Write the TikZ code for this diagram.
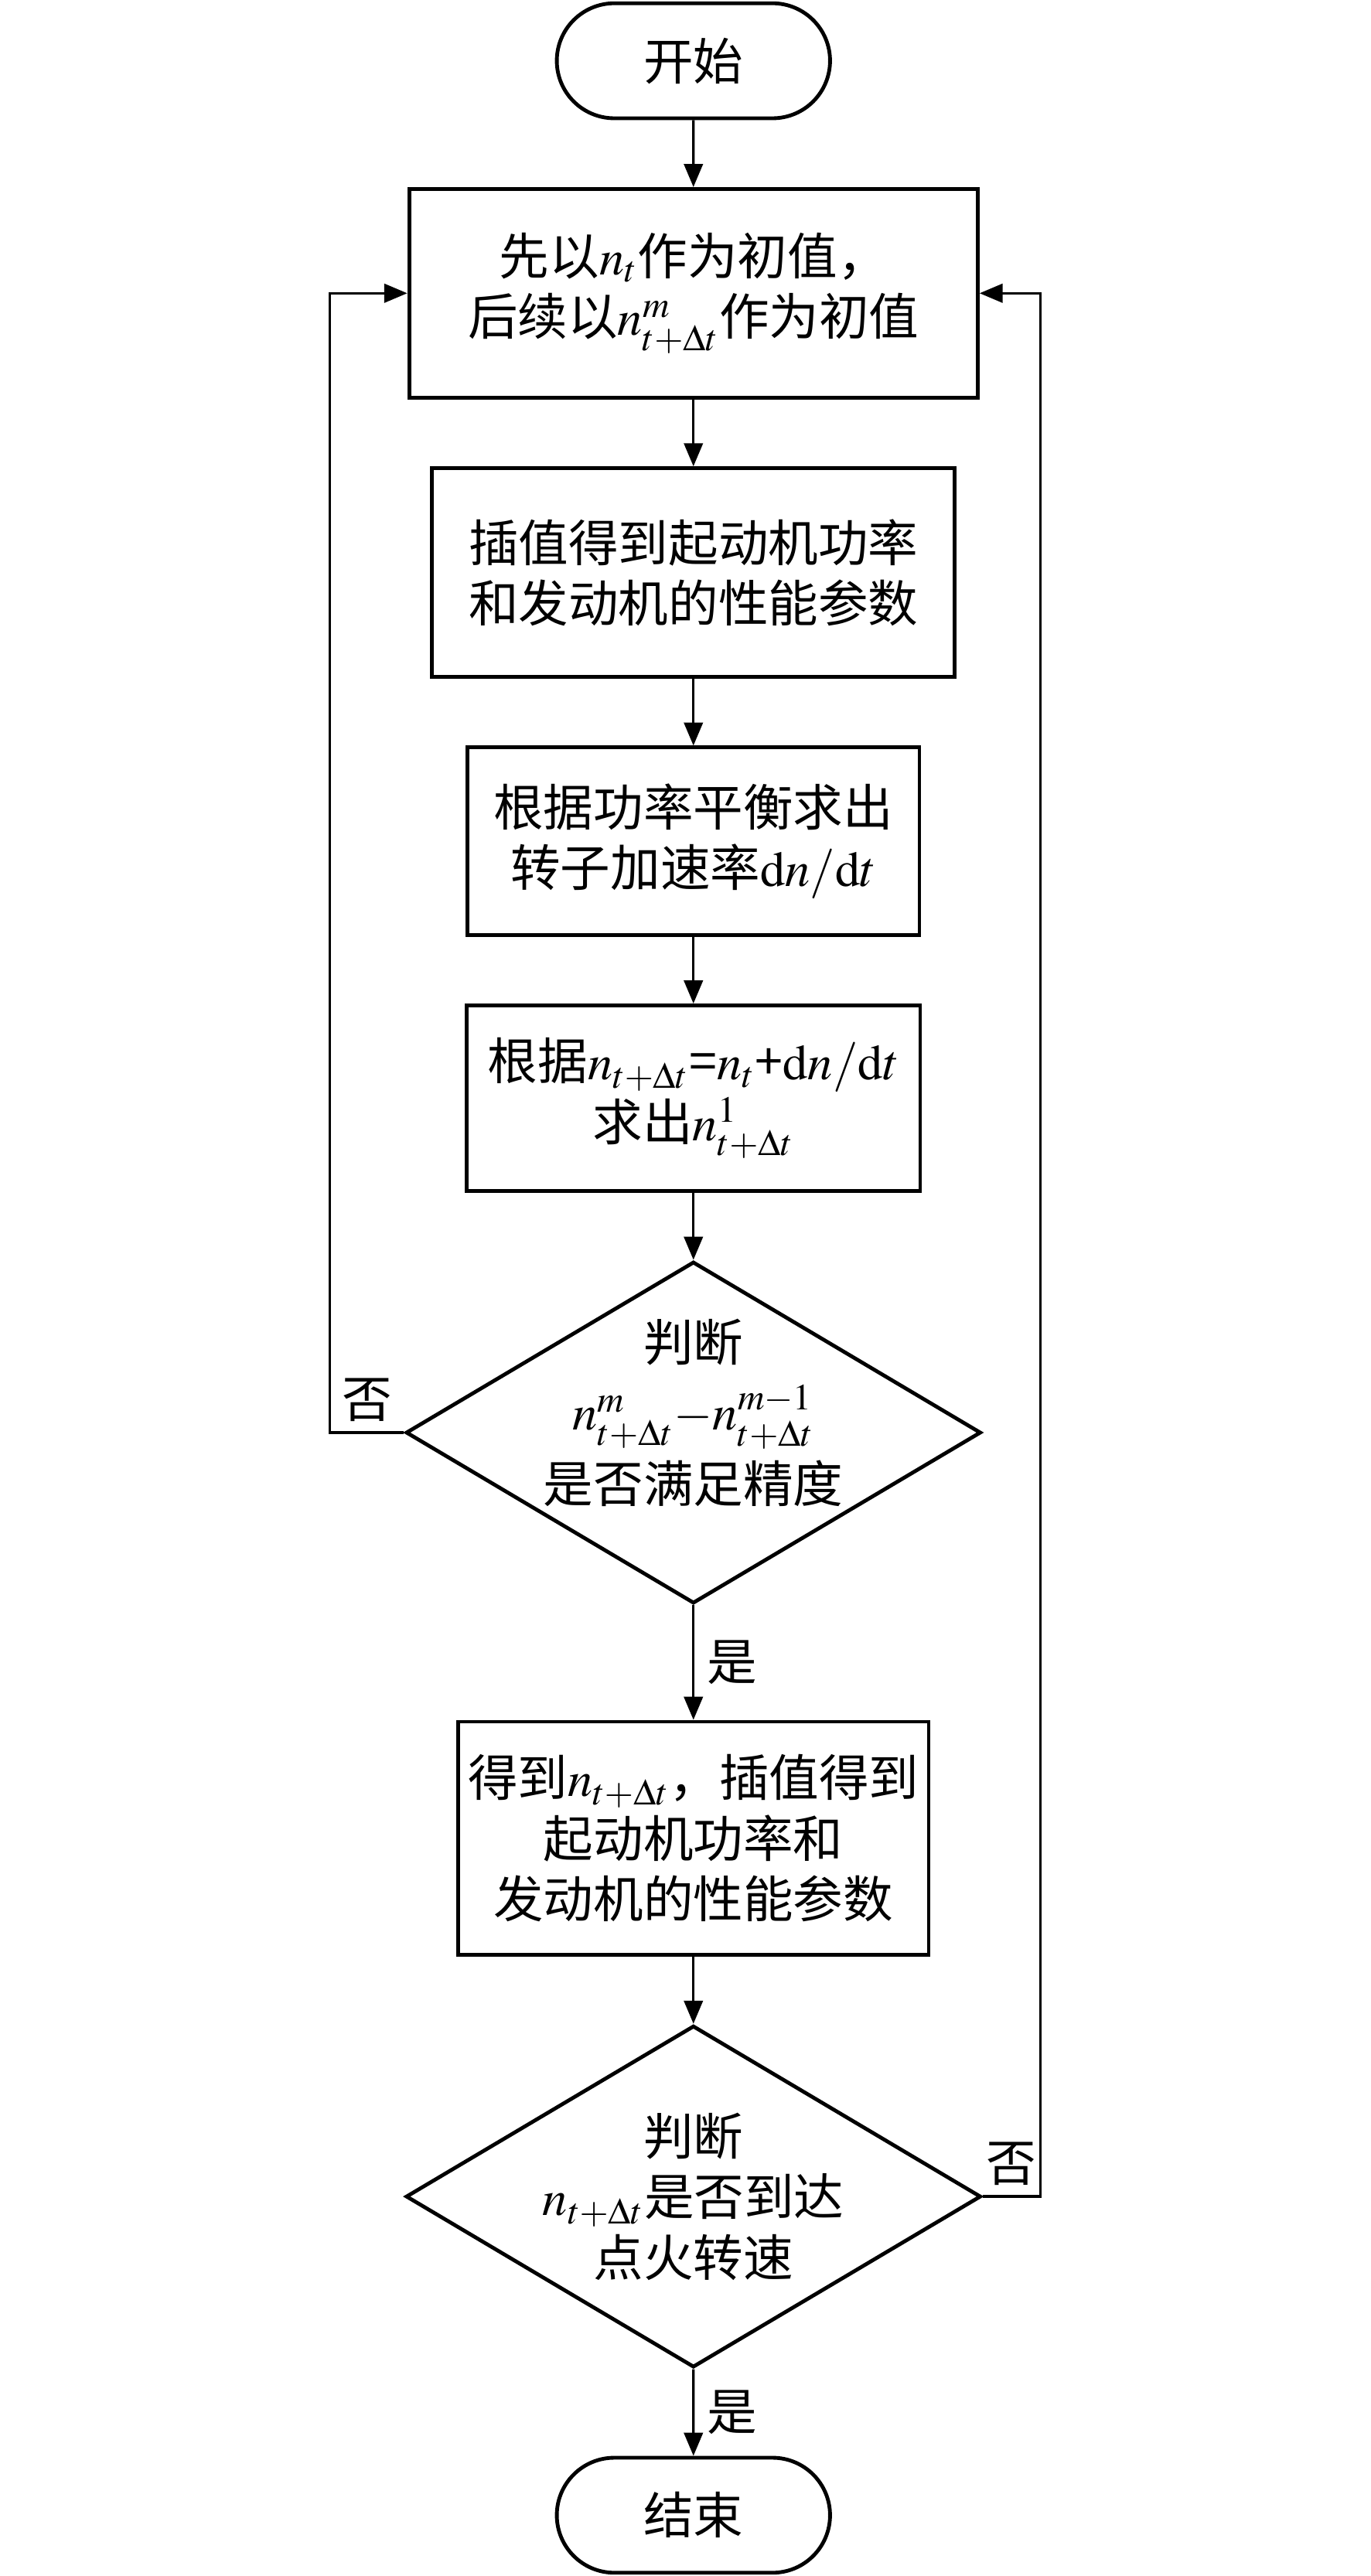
\documentclass[tikz,border=0pt]{standalone}
\usepackage{mathptmx}
\usepackage[no-math]{fontspec}
\setmainfont{Noto Sans CJK SC}
\usepackage{tikz}
\usetikzlibrary{shapes.geometric, shapes.misc, arrows.meta, positioning}

\begin{document}
\begin{tikzpicture}[
    font=\fontsize{17.3}{21}\selectfont,
    term/.style={draw, rounded rectangle, line width=1.3pt, minimum width=3.56cm, minimum height=1.4cm},
    proc/.style={draw, rectangle, line width=1.3pt, align=center},
    dec/.style={draw, diamond, line width=1.3pt, minimum width=7cm, minimum height=4.16cm, inner sep=0pt},
    flow/.style={-{Triangle[length=8pt, width=6.5pt]}, line width=0.9pt}]

    \useasboundingbox (-8.44,0) rectangle (8.24,-31.36);

    % Start and end
    \node[term] (st) at (0,-0.74) {开始};
    \node[term] (ed) at (0,-30.62) {结束};

    % Process boxes
    \node[proc, minimum width=6.92cm, minimum height=2.54cm] (init) at (0,-3.57) {先以$n_t$作为初值，\\后续以$n^m_{t+\Delta t}$作为初值};
    \node[proc, minimum width=6.36cm, minimum height=2.54cm] (interp) at (0,-6.97) {插值得到起动机功率\\和发动机的性能参数};
    \node[proc, minimum width=5.5cm, minimum height=2.28cm] (accel) at (0,-10.24) {根据功率平衡求出\\转子加速率$\mathrm{d}n/\mathrm{d}t$};
    \node[proc, minimum width=5.52cm, minimum height=2.26cm] (pred) at (0,-13.37) {根据$n_{t+\Delta t}$=$n_t$+$\mathrm{d}n/\mathrm{d}t$\\求出$n^1_{t+\Delta t}$};
    \node[proc, minimum width=5.52cm, minimum height=2.84cm] (upd) at (0,-22.38) {得到$n_{t+\Delta t}$，插值得到\\起动机功率和\\发动机的性能参数};

    % Decisions
    \node[dec] (conv) at (0,-17.44) {};
    \node[align=center] (convtxt) at (0,-17.2) {判断\\[3pt]$n^m_{t+\Delta t}{-}n^{m-1}_{t+\Delta t}$\\[3pt]是否满足精度};
    \node[dec] (ign) at (0,-26.74) {};
    \node[align=center] (igntxt) at (0,-26.74) {判断\\$n_{t+\Delta t}$是否到达\\点火转速};

    % Arrows
    \draw[flow] (st) -- (init);
    \draw[flow] (init) -- (interp);
    \draw[flow] (interp) -- (accel);
    \draw[flow] (accel) -- (pred);
    \draw[flow] (pred) -- (conv);
    \draw[flow] (conv) -- node[right, xshift=1pt] {是} (upd);
    \draw[flow] (upd) -- (ign);
    \draw[flow] (ign) -- node[right, xshift=1pt] {是} (ed);

    % Loops back
    \draw[flow] (conv.west) -- node[above] {否} ++(-0.9,0) |- (init.west);
    \draw[flow] (ign.east) -- node[above] {否} ++(0.7,0) |- (init.east);
\end{tikzpicture}
\end{document}
